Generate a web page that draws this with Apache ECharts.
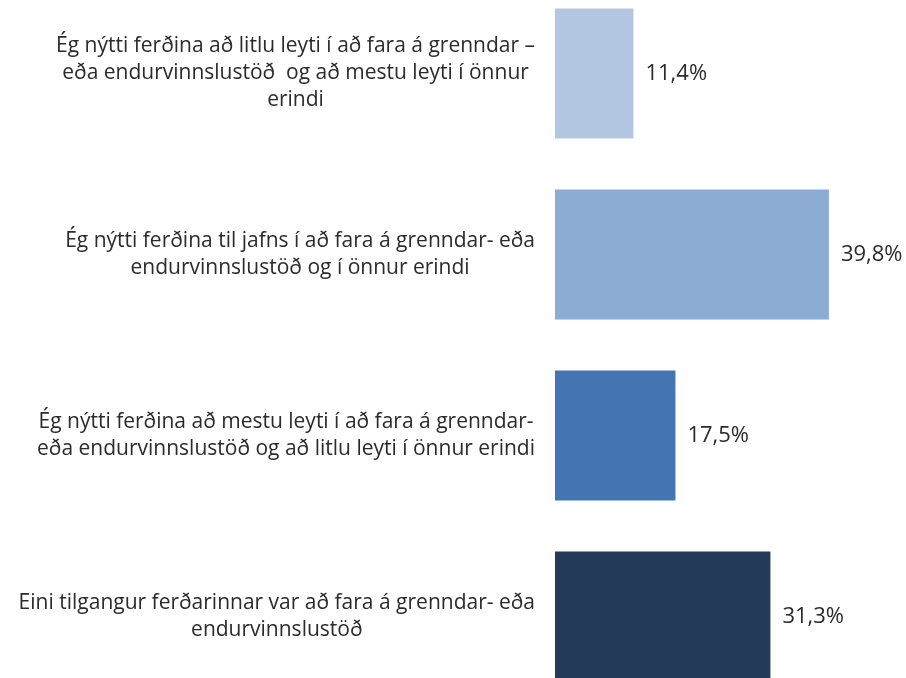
<!DOCTYPE html>
<html>
<head>
<meta charset="utf-8">
<script src="https://cdn.jsdelivr.net/npm/echarts@6/dist/echarts.min.js"></script>
<style>
html,body{margin:0;padding:0;background:#fff;overflow:hidden;height:678px;}
/* neðsta súlan er skorin af á myndinni, því er strigi hærri en glugginn */
#chart{width:906px;height:724px;margin-top:-17px;}
</style>
</head>
<body>
<div id="chart"></div>
<script>
// flokkar (ofan frá og niður)
var categories = [
    'Ég nýtti ferðina að litlu leyti í að fara á grenndar –\neða endurvinnslustöð  og að mestu leyti í önnur\nerindi',
    'Ég nýtti ferðina til jafns í að fara á grenndar- eða\nendurvinnslustöð og í önnur erindi',
    'Ég nýtti ferðina að mestu leyti í að fara á grenndar-\neða endurvinnslustöð og að litlu leyti í önnur erindi',
    'Eini tilgangur ferðarinnar var að fara á grenndar- eða\nendurvinnslustöð'
];
var values = [11.4, 39.8, 17.5, 31.3];
var colors = ['#b3c7e3', '#8cacd4', '#4474b1', '#243a59'];

var font = 'Open Sans, sans-serif';
var myChart = echarts.init(document.getElementById('chart'));
var option = {
    animation: false,
    grid: {
        left: 555,
        right: 0,
        top: 0,
        bottom: 0,
        containLabel: false
    },
    xAxis: {
        type: 'value',
        min: 0,
        max: 51,
        show: false
    },
    yAxis: {
        type: 'category',
        inverse: true,
        data: categories,
        axisLine: {show: false},
        axisTick: {show: false},
        splitLine: {show: false},
        axisLabel: {
            margin: 20,
            align: 'right',
            formatter: function (v) {
                // hver lína miðjuð innan textablokkarinnar
                return v.split('\n').map(function (l) {
                    return '{c|' + l + '}';
                }).join('\n');
            },
            rich: {
                c: {
                    align: 'center',
                    color: '#2b2b2b',
                    fontFamily: font,
                    fontSize: 21,
                    lineHeight: 27
                }
            }
        }
    },
    series: [{
        type: 'bar',
        barWidth: 130,
        data: values.map(function (v, i) {
            return {value: v, itemStyle: {color: colors[i]}};
        }),
        label: {
            show: true,
            position: 'right',
            distance: 12,
            color: '#2b2b2b',
            fontFamily: font,
            fontSize: 22,
            formatter: function (p) {
                return p.value.toFixed(1).replace('.', ',') + '%';
            }
        }
    }]
};
myChart.setOption(option);
</script>
</body>
</html>
